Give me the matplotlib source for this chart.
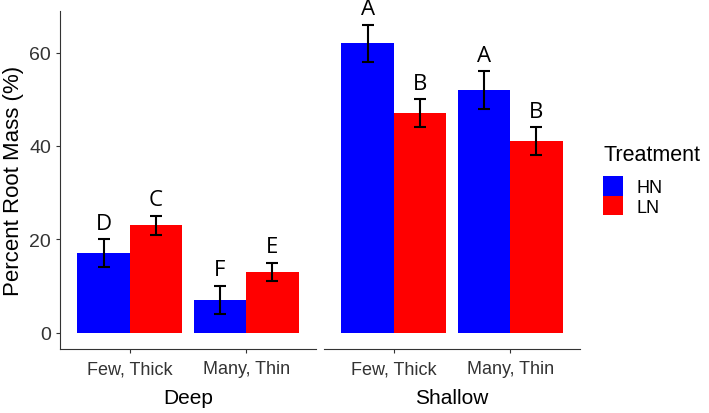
import numpy as np
import matplotlib.pyplot as plt

# data
depths = ["Deep", "Shallow"]
root_types = ["Few, Thick", "Many, Thin"]
treatments = ["HN", "LN"]
colors = ["#0000FF", "#FF0000"]

# mean percent root mass [depth][root type] per treatment
hn_mean = [[17, 7], [62, 52]]
ln_mean = [[23, 13], [47, 41]]
hn_err = [[3, 3], [4, 4]]
ln_err = [[2, 2], [3, 3]]
hn_letters = [["D", "F"], ["A", "A"]]
ln_letters = [["C", "E"], ["B", "B"]]

plt.rcParams['font.family'] = ['Liberation Sans', 'DejaVu Sans']

W, H = 709, 414
fig = plt.figure(figsize=(W / 100, H / 100), dpi=100)

def px_axes(x0, x1, ytop, ybot):
    return fig.add_axes([x0 / W, (H - ybot) / H, (x1 - x0) / W, (ybot - ytop) / H])

axes = [px_axes(60, 316, 12, 350), px_axes(324, 580, 12, 350)]
bar_w = 0.45
x = np.arange(1, len(root_types) + 1)

for d, ax in enumerate(axes):
    means = [hn_mean[d], ln_mean[d]]
    errs = [hn_err[d], ln_err[d]]
    letters = [hn_letters[d], ln_letters[d]]
    for t in range(2):
        pos = x + (t - 0.5) * bar_w
        ax.bar(pos, means[t], width=bar_w, color=colors[t], label=treatments[t],
               edgecolor="none", zorder=2)
        ax.errorbar(pos, means[t], yerr=errs[t], fmt="none", ecolor="black",
                    elinewidth=1.5, capsize=4, capthick=1.5, zorder=3)
        for p, m, e, lab in zip(pos, means[t], errs[t], letters[t]):
            ax.text(p, m + e + 1.2, lab, ha="center", va="bottom", fontsize=16,
                    family=["Open Sans", "DejaVu Sans"], color="black", clip_on=False)

    ax.set_xlim(0.4, 2.6)
    ax.set_ylim(-3.5, 68.9)
    ax.set_xticks(x)
    ax.set_xticklabels(root_types, fontsize=13, color="#333333")
    ax.set_xlabel(depths[d], fontsize=15, labelpad=8, color="black")
    for s in ["top", "right"]:
        ax.spines[s].set_visible(False)
    ax.spines["bottom"].set_color("#333333")
    ax.tick_params(axis="x", length=3, color="#333333", pad=5)
    if d == 0:
        ax.set_yticks([0, 20, 40, 60])
        ax.tick_params(axis="y", labelsize=14, labelcolor="#333333", length=3, color="#333333")
        ax.set_ylabel("Percent Root Mass (%)", fontsize=16, labelpad=4)
        ax.spines["left"].set_color("#333333")
    else:
        ax.spines["left"].set_visible(False)
        ax.set_yticks([])

handles, labels = axes[1].get_legend_handles_labels()
leg = fig.legend(handles, labels, title="Treatment", loc="center left",
                 bbox_to_anchor=(603 / W, 1 - 181 / H), frameon=False,
                 borderpad=0, borderaxespad=0,
                 fontsize=13, title_fontsize=15.5, handlelength=1.1, handleheight=1.25,
                 handletextpad=0.75, labelspacing=0.0, alignment="left")
# a bit more room between title and keys, as in ggplot
leg._legend_box.sep = 8

fig.savefig("out.png", dpi=100)
